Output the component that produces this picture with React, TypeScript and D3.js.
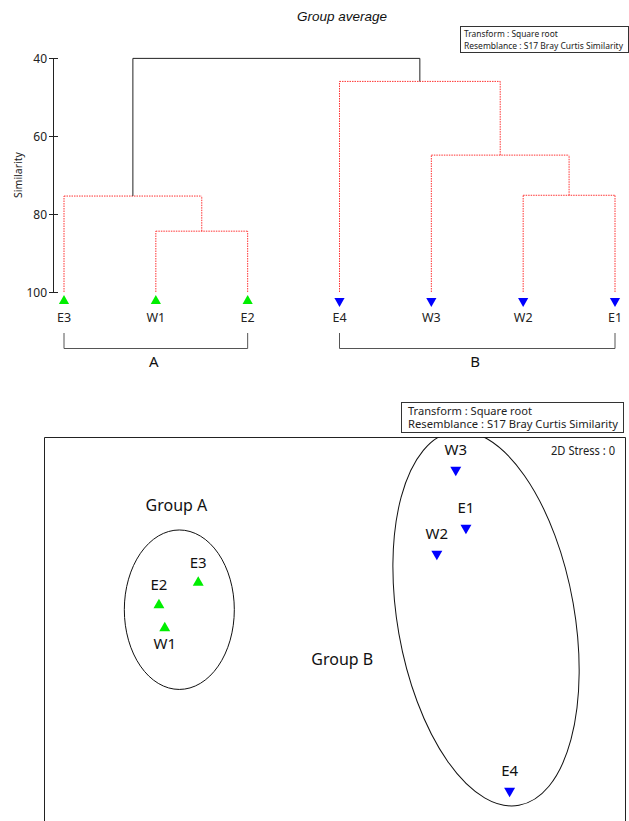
import * as d3 from "d3";

// dendrogram (group average)
const leaves = ["E3", "W1", "E2", "E4", "W3", "W2", "E1"];
const leafGroup = ["A", "A", "A", "B", "B", "B", "B"];
const clusterIds = ["c1", "c2", "c3", "c4", "c5", "c6"];
const clusterLeft = ["W1", "E3", "W2", "W3", "E4", "c2"];
const clusterRight = ["E2", "c1", "E1", "c3", "c4", "c5"];
const clusterSim = [84.4, 75.4, 75.2, 64.9, 46.0, 40.1];
const simTicks = [40, 60, 80, 100];

const groupNames = ["A", "B"];
const groupFirst = ["E3", "E4"];
const groupLast = ["E2", "E1"];

// MDS ordination
const mdsNames = ["E3", "E2", "W1", "W3", "E1", "W2", "E4"];
const mdsX = [-0.94, -1.21, -1.17, 0.83, 0.9, 0.7, 1.2];
const mdsY = [1.0, 0.845, 0.687, 1.773, 1.375, 1.196, -0.433];
const mdsGroup = ["A", "A", "A", "B", "B", "B", "B"];
const mdsLabelBelow = [false, false, true, false, false, false, false];

const ellipseName = ["Group A", "Group B"];
const ellipseCx = [-1.07, 1.038];
const ellipseCy = [0.813, 0.753];
const ellipseRx = [0.378, 0.608];
const ellipseRy = [0.548, 1.304];
const ellipseAngle = [0, -10];
const groupLabelX = [-1.09, 0.05];
const groupLabelY = [1.49, 0.43];

const legendLines = ["Transform : Square root", "Resemblance : S17 Bray Curtis Similarity"];
// relative widths of the legend lines (narrow Korean UI font in the original)
const legendRatio = [0.59, 1];

const GREEN = "#00ee00";
const BLUE = "#0000ff";
const RED = "#ff3333";
const FONT = "'Noto Sans', 'DejaVu Sans', sans-serif";

export default function App() {
  const W = 629;
  const H = 821;

  // ---- dendrogram scales
  const xLeaf = d3.scalePoint<string>().domain(leaves).range([64, 615]);
  const ySim = d3.scaleLinear().domain([40, 100]).range([58, 292]);

  const pos: Record<string, { x: number; y: number }> = {};
  leaves.forEach((l) => (pos[l] = { x: xLeaf(l)!, y: ySim(100) }));
  clusterIds.forEach((c, i) => {
    const a = pos[clusterLeft[i]];
    const b = pos[clusterRight[i]];
    pos[c] = { x: (a.x + b.x) / 2, y: ySim(clusterSim[i]) };
  });

  const triUp = d3.symbol().type(d3.symbolTriangle).size(45)()!;
  const triUpBig = d3.symbol().type(d3.symbolTriangle).size(52)()!;

  // ---- MDS scales
  const box = { left: 44, top: 437, right: 626 };
  const xMds = d3.scaleLinear().domain([-2, 2]).range([box.left, box.right]);
  const pxPerUnit = (box.right - box.left) / 4;
  const yMds = d3.scaleLinear().domain([2, -2]).range([box.top, box.top + 4 * pxPerUnit]);

  return (
    <div style={{ position: "absolute", left: 0, top: 0 }}>
      <svg width={W} height={H} style={{ display: "block", background: "#fff" }}>
        <defs>
          <clipPath id="mdsclip">
            <rect x={box.left} y={box.top} width={box.right - box.left} height={H - box.top} />
          </clipPath>
        </defs>

        {/* title */}
        <text x={342} y={21} textAnchor="middle" fontFamily="'Liberation Sans', Arial, sans-serif"
          fontStyle="italic" fontSize={13.5} fill="#111">Group average</text>

        {/* top legend */}
        <rect x={460.5} y={26.5} width={168} height={26} fill="#fff" stroke="#333" />
        {legendLines.map((t, i) => (
          <text key={t} x={464} y={36.5 + i * 12} fontFamily={FONT} fontSize={9.6} fill="#222"
            textLength={159 * legendRatio[i]} lengthAdjust="spacingAndGlyphs">{t}</text>
        ))}

        {/* y axis */}
        <line x1={53.5} x2={53.5} y1={ySim(40)} y2={ySim(100)} stroke="#222" />
        {simTicks.map((t) => (
          <g key={t} transform={`translate(0,${ySim(t)})`}>
            <line x1={49} x2={58} y1={0.5} y2={0.5} stroke="#222" />
            <text x={47} y={4.5} textAnchor="end" fontFamily={FONT} fontSize={12} fill="#222">{t}</text>
          </g>
        ))}
        <text transform={`translate(22,${ySim(70)}) rotate(-90)`} textAnchor="middle"
          fontFamily={FONT} fontSize={10.5} fill="#222">Similarity</text>

        {/* dendrogram links */}
        {clusterIds.map((c, i) => {
          const top = i === clusterIds.length - 1;
          const a = pos[clusterLeft[i]];
          const b = pos[clusterRight[i]];
          const y = pos[c].y;
          const stroke = top ? "#222" : RED;
          const dash = top ? undefined : "1.5,1";
          return (
            <g key={c} fill="none" stroke={stroke} strokeDasharray={dash}>
              <line x1={a.x} x2={b.x} y1={y} y2={y} />
              <line x1={a.x} x2={a.x} y1={a.y} y2={y} />
              <line x1={b.x} x2={b.x} y1={b.y} y2={y} />
            </g>
          );
        })}

        {/* leaves */}
        {leaves.map((l, i) => {
          const p = pos[l];
          const isA = leafGroup[i] === "A";
          return (
            <g key={l}>
              <path d={triUp} fill={isA ? GREEN : BLUE}
                transform={`translate(${p.x},${p.y + 9}) rotate(${isA ? 0 : 180})`} />
              <text x={p.x} y={p.y + 30} textAnchor="middle" fontFamily={FONT} fontSize={12.5} fill="#222">{l}</text>
            </g>
          );
        })}

        {/* group brackets */}
        {groupNames.map((g, i) => {
          const x1 = pos[groupFirst[i]].x;
          const x2 = pos[groupLast[i]].x;
          return (
            <g key={g}>
              <path d={`M${x1},333V348.5H${x2}V333`} fill="none" stroke="#555" />
              <text x={(x1 + x2) / 2 - 2} y={367} textAnchor="middle" fontFamily={FONT} fontSize={15} fill="#111">{g}</text>
            </g>
          );
        })}

        {/* MDS legend */}
        <rect x={401.5} y={402.5} width={222} height={30} fill="#fff" stroke="#333" />
        {legendLines.map((t, i) => (
          <text key={t} x={408} y={414.5 + i * 13.5} fontFamily={FONT} fontSize={11.5} fill="#222"
            textLength={210 * legendRatio[i]} lengthAdjust="spacingAndGlyphs">{t}</text>
        ))}

        {/* MDS box */}
        <path d={`M${box.left + 0.5},${H + 5}V${box.top + 0.5}H${box.right - 0.5}V${H + 5}`} fill="none" stroke="#222" />
        <text x={615} y={455} textAnchor="end" fontFamily={FONT} fontSize={12} fill="#222"
          textLength={64} lengthAdjust="spacingAndGlyphs">2D Stress : 0</text>

        <g clipPath="url(#mdsclip)">
          {ellipseName.map((n, i) => (
            <ellipse key={n} cx={0} cy={0} rx={ellipseRx[i] * pxPerUnit} ry={ellipseRy[i] * pxPerUnit}
              transform={`translate(${xMds(ellipseCx[i])},${yMds(ellipseCy[i])}) rotate(${ellipseAngle[i]})`}
              fill="none" stroke="#111" />
          ))}
        </g>
        {ellipseName.map((n, i) => (
          <text key={n} x={xMds(groupLabelX[i])} y={yMds(groupLabelY[i])} textAnchor="middle"
            fontFamily={FONT} fontSize={16} fill="#111">{n}</text>
        ))}

        {mdsNames.map((n, i) => {
          const x = xMds(mdsX[i]);
          const y = yMds(mdsY[i]);
          const isA = mdsGroup[i] === "A";
          return (
            <g key={n}>
              <path d={triUpBig} fill={isA ? GREEN : BLUE}
                transform={`translate(${x},${y}) rotate(${isA ? 0 : 180})`} />
              <text x={x} y={mdsLabelBelow[i] ? y + 21 : y - 15} textAnchor="middle"
                fontFamily={FONT} fontSize={15} fill="#111">{n}</text>
            </g>
          );
        })}
      </svg>
    </div>
  );
}
